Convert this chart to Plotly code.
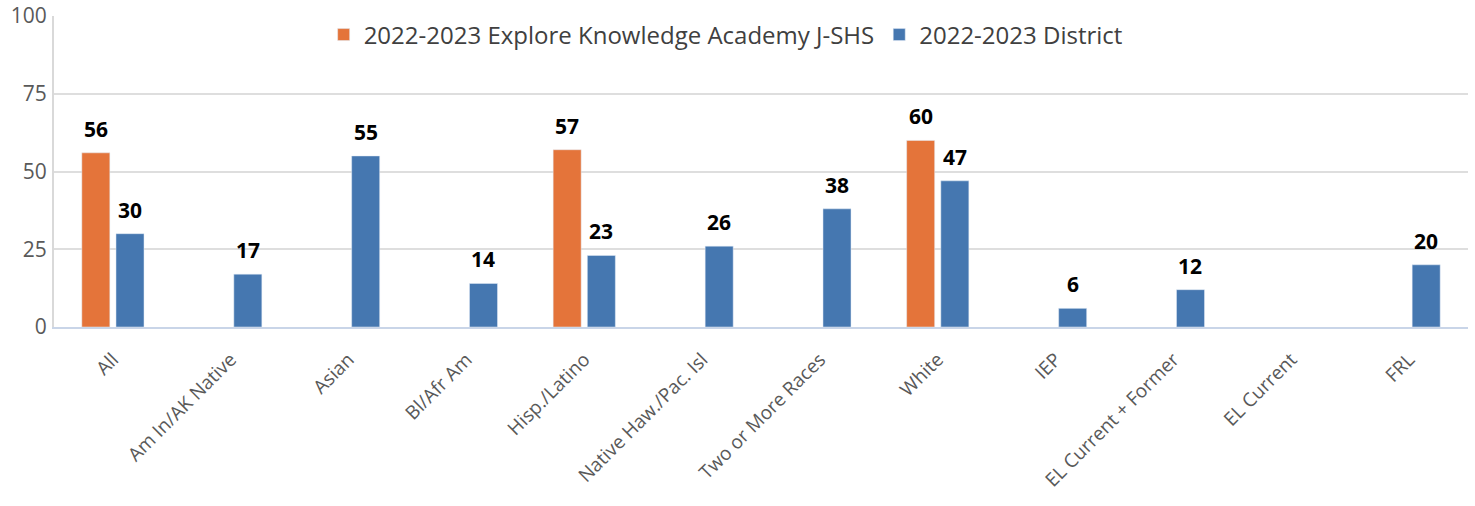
import plotly.graph_objects as go

categories = ["All", "Am In/AK Native", "Asian", "Bl/Afr Am", "Hisp./Latino",
              "Native Haw./Pac. Isl", "Two or More Races", "White", "IEP",
              "EL Current + Former", "EL Current", "FRL"]
school_name = "2022-2023 Explore Knowledge Academy J-SHS"
district_name = "2022-2023 District"
school_values = [56, None, None, None, 57, None, None, 60, None, None, None, None]
district_values = [30, 17, 55, 14, 23, 26, 38, 47, 6, 12, None, 20]
y_ticks = [0, 25, 50, 75, 100]

FONT = "Open Sans, Noto Sans, sans-serif"
ORANGE = "#E4743A"
BLUE = "#4577B0"

fig = go.Figure()
fig.add_trace(go.Bar(x=categories, y=school_values, name=school_name,
                     marker=dict(color=ORANGE), hoverinfo="x+y"))
fig.add_trace(go.Bar(x=categories, y=district_values, name=district_name,
                     marker=dict(color=BLUE), hoverinfo="x+y"))

# value labels above bars (grouped offset: left = school, right = district)
for vals, shift in ((school_values, -17), (district_values, 17)):
    for cat, v in zip(categories, vals):
        if v is None:
            continue
        fig.add_annotation(x=cat, y=v, xref="x", yref="y", text=str(v),
                           showarrow=False, yanchor="bottom", xanchor="center",
                           xshift=shift, yshift=8,
                           font=dict(family=FONT, size=21, color="#000000",
                                     weight="bold"))

fig.update_layout(
    width=1475, height=506,
    margin=dict(l=54, r=7, t=16, b=179),
    paper_bgcolor="white", plot_bgcolor="white",
    barmode="group", bargap=0.42, bargroupgap=0.18,
    font=dict(family=FONT, color="#595959"),
    legend=dict(orientation="h", x=0.475, xanchor="center", y=0.939,
                yanchor="middle",
                font=dict(family=FONT, size=24, color="#404040"),
                bgcolor="rgba(0,0,0,0)", traceorder="normal",
                itemwidth=30),
    showlegend=True,
)
fig.update_yaxes(
    range=[0, 100], tickvals=y_ticks, ticktext=[str(t) for t in y_ticks],
    showgrid=True, gridcolor="#DEDEDE", gridwidth=2,
    showline=True, linecolor="#D9D9D9", linewidth=2,
    zeroline=False, ticks="", ticklabelstandoff=1, automargin=False,
    ticklabeloverflow="allow",
    tickfont=dict(family=FONT, size=21, color="#595959"),
)
fig.update_xaxes(
    tickangle=-45, showgrid=False, showline=True, linecolor="#C9D5E8",
    linewidth=2, ticks="", automargin=False, ticklabelstandoff=12,
    tickfont=dict(family=FONT, size=19, color="#595959"),
)

fig.write_html("out.html",
               config={"displayModeBar": False},
               post_script="document.body.style.margin='0';"
                           "document.body.style.padding='0';")
